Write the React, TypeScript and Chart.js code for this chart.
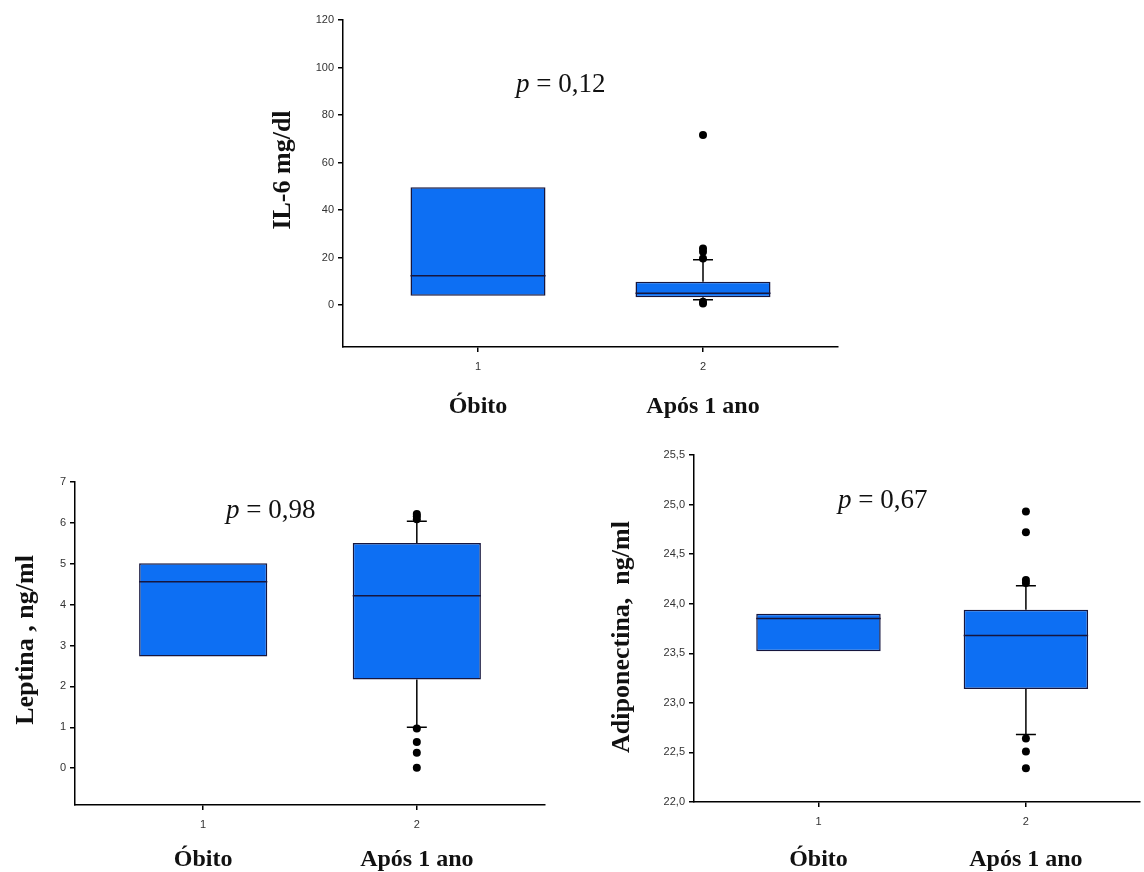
import React, { useEffect, useRef } from 'react';
import { Chart, registerables } from 'chart.js';

Chart.register(...registerables);

// ---------- data ----------
const categories = [1, 2];
const categoryNames = ['Óbito', 'Após 1 ano'];

// IL-6
const il6Q1 = [3.9, 3.2];
const il6Median = [12.3, 4.9];
const il6Q3 = [49.6, 9.8];
const il6WhiskerLow = [null, 2.2];
const il6WhiskerHigh = [null, 19.0];
const il6Outliers = [71.6, 23.8, 22.4, 19.6, 1.4, 0.6];
const il6Ticks = [0, 20, 40, 60, 80, 100, 120];
const il6P = '0,12';

// Leptina
const lepQ1 = [2.73, 2.17];
const lepMedian = [4.56, 4.22];
const lepQ3 = [5.01, 5.51];
const lepWhiskerLow = [null, 1.0];
const lepWhiskerHigh = [null, 6.04];
const lepOutliers = [6.22, 6.16, 6.09, 0.97, 0.64, 0.38, 0.01];
const lepTicks = [0, 1, 2, 3, 4, 5, 6, 7];
const lepP = '0,98';

// Adiponectina
const adiQ1 = [23.52, 23.14];
const adiMedian = [23.85, 23.68];
const adiQ3 = [23.9, 23.94];
const adiWhiskerLow = [null, 22.68];
const adiWhiskerHigh = [null, 24.18];
const adiOutliers = [24.93, 24.72, 24.24, 24.21, 22.64, 22.51, 22.34];
const adiTicks = [22.0, 22.5, 23.0, 23.5, 24.0, 24.5, 25.0, 25.5];
const adiP = '0,67';

// ---------- styles ----------
const BOX_FILL = '#0d6ff3';
const BOX_BORDER = '#16163e';
const SERIF = '"Liberation Serif", "Times New Roman", serif';
const SANS = '"Liberation Sans", Arial, sans-serif';

type Spec = {
  left: number; top: number; width: number; height: number;
  padding: { left: number; right: number; top: number; bottom: number };
  yWidth: number;
  xMin: number; xMax: number;
  yMin: number; yMax: number;
  yTicks: number[];
  yFormat: (v: number) => string;
  q1: number[]; median: number[]; q3: number[];
  wLow: (number | null)[]; wHigh: (number | null)[];
  outliers: number[];
  yTitle: string; yTitleX: number; yTitleY: number;
  catY: number;
  pText: string; pX: number; pY: number;
};

function makePlugin(s: Spec) {
  return {
    id: 'boxExtras',
    beforeDatasetsDraw(chart: any) {
      const ctx = chart.ctx;
      const x = chart.scales.x;
      const y = chart.scales.y;
      ctx.save();
      ctx.strokeStyle = '#000';
      ctx.lineWidth = 1.5;
      categories.forEach((c, i) => {
        const px = x.getPixelForValue(c);
        const hi = s.wHigh[i];
        const lo = s.wLow[i];
        if (hi !== null) {
          ctx.beginPath();
          ctx.moveTo(px, y.getPixelForValue(s.q3[i]));
          ctx.lineTo(px, y.getPixelForValue(hi));
          ctx.moveTo(px - 10, y.getPixelForValue(hi));
          ctx.lineTo(px + 10, y.getPixelForValue(hi));
          ctx.stroke();
        }
        if (lo !== null) {
          ctx.beginPath();
          ctx.moveTo(px, y.getPixelForValue(s.q1[i]));
          ctx.lineTo(px, y.getPixelForValue(lo));
          ctx.moveTo(px - 10, y.getPixelForValue(lo));
          ctx.lineTo(px + 10, y.getPixelForValue(lo));
          ctx.stroke();
        }
      });
      ctx.restore();
    },
    afterDatasetsDraw(chart: any) {
      const ctx = chart.ctx;
      const y = chart.scales.y;
      const meta = chart.getDatasetMeta(1);
      ctx.save();
      ctx.strokeStyle = BOX_BORDER;
      ctx.lineWidth = 1.5;
      meta.data.forEach((bar: any, i: number) => {
        const py = y.getPixelForValue(s.median[i]);
        ctx.beginPath();
        ctx.moveTo(bar.x - bar.width / 2, py);
        ctx.lineTo(bar.x + bar.width / 2, py);
        ctx.stroke();
      });
      ctx.restore();
    },
    afterDraw(chart: any) {
      const ctx = chart.ctx;
      const x = chart.scales.x;
      ctx.save();
      ctx.fillStyle = '#111';
      // y title
      ctx.save();
      ctx.translate(s.yTitleX, s.yTitleY);
      ctx.rotate(-Math.PI / 2);
      ctx.font = `bold 26px ${SERIF}`;
      ctx.textAlign = 'center';
      ctx.textBaseline = 'middle';
      ctx.fillText(s.yTitle, 0, 0);
      ctx.restore();
      // category names
      ctx.font = `bold 24px ${SERIF}`;
      ctx.textAlign = 'center';
      ctx.textBaseline = 'alphabetic';
      categories.forEach((c, i) => {
        ctx.fillText(categoryNames[i], x.getPixelForValue(c), s.catY);
      });
      // p value
      ctx.textAlign = 'left';
      ctx.font = `italic 27px ${SERIF}`;
      ctx.fillText('p', s.pX, s.pY);
      const w = ctx.measureText('p').width;
      ctx.font = `27px ${SERIF}`;
      ctx.fillText(' = ' + s.pText, s.pX + w, s.pY);
      ctx.restore();
    },
  };
}

function makeConfig(s: Spec): any {
  return {
    type: 'bar',
    data: {
      datasets: [
        {
          type: 'scatter',
          data: s.outliers.map((v) => ({ x: categories[1], y: v })),
          pointRadius: 4,
          pointBackgroundColor: '#000',
          pointBorderWidth: 0,
          pointBorderColor: '#000',
        },
        {
          type: 'bar',
          data: categories.map((c, i) => ({ x: c, y: [s.q1[i], s.q3[i]] })),
          backgroundColor: BOX_FILL,
          borderColor: BOX_BORDER,
          borderWidth: 1.5,
          borderSkipped: false,
          barPercentage: 0.6,
          categoryPercentage: 1,
          grouped: false,
        },
      ],
    },
    options: {
      responsive: false,
      animation: false,
      events: [],
      layout: { padding: s.padding },
      plugins: { legend: { display: false }, tooltip: { enabled: false }, title: { display: false } },
      scales: {
        x: {
          type: 'linear',
          min: s.xMin,
          max: s.xMax,
          offset: false,
          afterBuildTicks: (scale: any) => {
            scale.ticks = categories.map((c) => ({ value: c }));
          },
          afterFit: (scale: any) => {
            scale.height = 30;
          },
          grid: { offset: false, drawOnChartArea: false, drawTicks: true, tickLength: 5, color: '#000', lineWidth: 1.5 },
          border: { display: true, color: '#000', width: 1.5 },
          ticks: { color: '#333', font: { family: SANS, size: 11 }, padding: 8, callback: (v: number) => String(v) },
        },
        y: {
          type: 'linear',
          min: s.yMin,
          max: s.yMax,
          afterBuildTicks: (scale: any) => {
            scale.ticks = s.yTicks.map((v) => ({ value: v }));
          },
          afterFit: (scale: any) => {
            scale.width = s.yWidth;
          },
          grid: { drawOnChartArea: false, drawTicks: true, tickLength: 5, color: '#000', lineWidth: 1.5 },
          border: { display: true, color: '#000', width: 1.5 },
          ticks: { color: '#333', font: { family: SANS, size: 11 }, padding: 4, callback: (v: number) => s.yFormat(v) },
        },
      },
    },
    plugins: [makePlugin(s)],
  };
}

const specs: Spec[] = [
  {
    left: 250, top: 0, width: 600, height: 430,
    padding: { left: 33, right: 12, top: 20, bottom: 53 },
    yWidth: 60,
    xMin: 0.4, xMax: 2.6,
    yMin: -17.7, yMax: 120,
    yTicks: il6Ticks,
    yFormat: (v) => String(Math.round(v)),
    q1: il6Q1, median: il6Median, q3: il6Q3,
    wLow: il6WhiskerLow, wHigh: il6WhiskerHigh,
    outliers: il6Outliers,
    yTitle: 'IL-6 mg/dl', yTitleX: 33, yTitleY: 170,
    catY: 413,
    pText: il6P, pX: 266, pY: 92,
  },
  {
    left: 0, top: 440, width: 570, height: 432,
    padding: { left: 25, right: 25, top: 42, bottom: 37 },
    yWidth: 50,
    xMin: 0.4, xMax: 2.6,
    yMin: -0.9, yMax: 7,
    yTicks: lepTicks,
    yFormat: (v) => String(Math.round(v)),
    q1: lepQ1, median: lepMedian, q3: lepQ3,
    wLow: lepWhiskerLow, wHigh: lepWhiskerHigh,
    outliers: lepOutliers,
    yTitle: 'Leptina , ng/ml', yTitleX: 26, yTitleY: 200,
    catY: 426,
    pText: lepP, pX: 226, pY: 78,
  },
  {
    left: 580, top: 440, width: 564, height: 432,
    padding: { left: 64, right: 0, top: 15, bottom: 40 },
    yWidth: 50,
    xMin: 0.4, xMax: 2.55,
    yMin: 22, yMax: 25.5,
    yTicks: adiTicks,
    yFormat: (v) => v.toFixed(1).replace('.', ','),
    q1: adiQ1, median: adiMedian, q3: adiQ3,
    wLow: adiWhiskerLow, wHigh: adiWhiskerHigh,
    outliers: adiOutliers,
    yTitle: 'Adiponectina,  ng/ml', yTitleX: 42, yTitleY: 197,
    catY: 426,
    pText: adiP, pX: 258, pY: 68,
  },
];

function BoxChart({ spec }: { spec: Spec }) {
  const ref = useRef<HTMLCanvasElement | null>(null);
  useEffect(() => {
    if (!ref.current) return;
    const chart = new Chart(ref.current, makeConfig(spec));
    return () => chart.destroy();
  }, [spec]);
  return (
    <canvas
      ref={ref}
      width={spec.width}
      height={spec.height}
      style={{ position: 'absolute', left: spec.left, top: spec.top, width: spec.width, height: spec.height }}
    />
  );
}

export default function App() {
  return (
    <div style={{ position: 'absolute', left: 0, top: 0, width: 1144, height: 872, overflow: 'hidden', background: '#fff' }}>
      {specs.map((s, i) => (
        <BoxChart key={i} spec={s} />
      ))}
    </div>
  );
}
